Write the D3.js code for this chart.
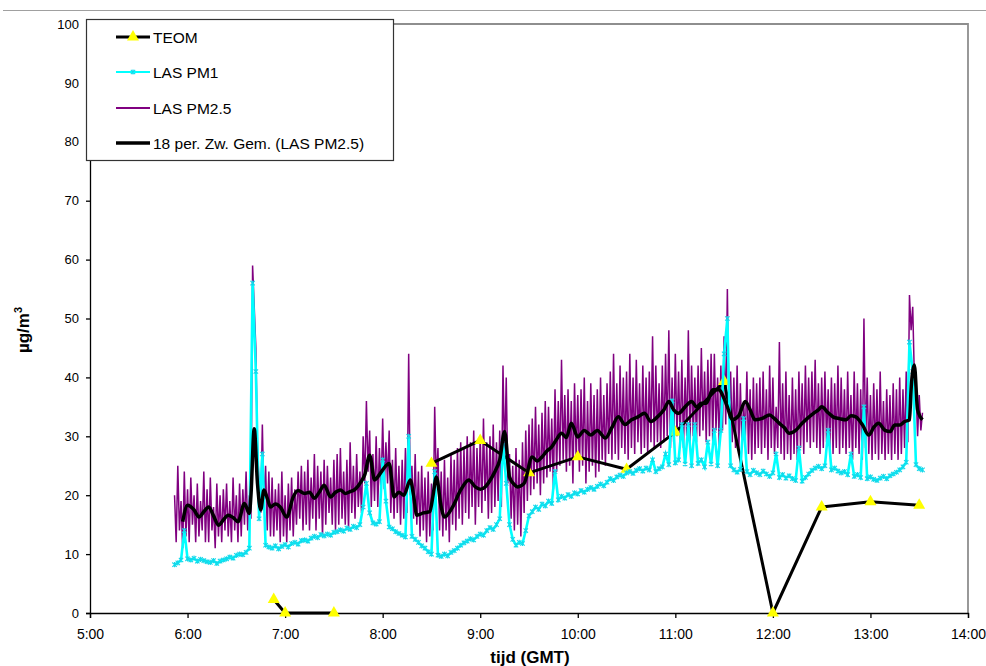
<!DOCTYPE html>
<html><head><meta charset="utf-8">
<script src="https://cdn.jsdelivr.net/npm/d3@7"></script>
<style>body{margin:0;background:#fff;} svg{display:block;font-family:"Liberation Sans",Arial,sans-serif;}</style>
</head><body><svg id="chart" width="986" height="666"></svg>
<script>
// ---------- data ----------
const xTickLabels = ["5:00","6:00","7:00","8:00","9:00","10:00","11:00","12:00","13:00","14:00"];
const yTicks = [0,10,20,30,40,50,60,70,80,90,100];
const legendLabels = ["TEOM","LAS PM1","LAS PM2.5","18 per. Zw. Gem. (LAS PM2.5)"];

// TEOM half-hourly values (null = no measurement)
const teomTimes  = ["6:53","7:00","7:30","8:00","8:30","9:00","9:30","10:00","10:30","11:00","11:30","12:00","12:30","13:00","13:30"];
const teomValues = [2.3, 0, 0, null, 25.4, 29.3, 23.8, 26.5, 24.4, 30.7, 39.3, 0, 18.0, 18.9, 18.3];

// LAS PM1, one sample every 2 minutes from 5:52
const pm1Start = "5:52";
const pm1StepMinutes = 2;
const lasPM1 = [
  8.2, 8.5, 9.0, 14, 9.2, 9.0, 9.3, 8.8, 9.1, 8.9,
  8.7, 8.6, 8.9, 8.4, 8.8, 9.0, 9.2, 9.5, 9.3, 9.8,
  10.0, 9.9, 10.3, 11.0, 56, 41, 16, 27, 11.5, 11.2,
  11.0, 11.4, 10.9, 11.3, 11.6, 11.2, 11.8, 12.0, 11.7, 12.3,
  12.4, 12.2, 12.7, 13.0, 12.8, 13.3, 13.1, 13.4, 13.2, 13.7,
  13.8, 14.1, 13.9, 14.4, 14.2, 14.7, 14.5, 15.0, 18, 22,
  17, 15.3, 15.1, 15.5, 26, 19, 14.6, 14.3, 13.8, 13.5,
  13.2, 12.9, 30, 13.0, 12.5, 12.0, 11.4, 11.0, 10.4, 10.0,
  24, 9.8, 9.6, 10.0, 9.7, 10.3, 10.6, 11.0, 11.5, 11.9,
  12.2, 12.6, 12.4, 13.0, 13.4, 13.2, 14.0, 14.5, 14.2, 15.0,
  16, 29, 22, 15, 12.5, 11.5, 12.0, 11.8, 14, 16.5,
  17.2, 18.0, 17.6, 18.5, 18.2, 19.0, 18.6, 24, 19.2, 19.8,
  19.5, 20.1, 19.8, 20.4, 20.2, 20.8, 20.5, 21.0, 21.3, 21.0,
  21.5, 21.9, 21.6, 22.2, 22.8, 22.5, 23.1, 23.4, 23.2, 23.8,
  24.0, 23.7, 24.2, 24.5, 24.1, 24.6, 24.3, 26, 24.0, 24.5,
  24.8, 27, 25.2, 36, 25.5, 26, 32, 25.3, 32, 25.0,
  32, 25.4, 26, 24.8, 29, 25.3, 31, 25.0, 31, 44,
  50, 25.0, 24.3, 23.9, 24.4, 33, 24.0, 23.5, 24.2, 23.8,
  23.5, 24.1, 23.6, 23.2, 23.8, 27, 23.0, 23.5, 22.9, 23.3,
  22.8, 22.5, 28, 22.4, 23.0, 23.6, 24.2, 24.6, 24.9, 24.5,
  25.0, 31, 24.3, 24.6, 24.1, 23.8, 24.0, 23.5, 27, 23.2,
  23.5, 23.0, 35, 22.8, 23.1, 22.7, 22.5, 22.9, 23.2, 22.8,
  23.3, 23.6, 23.9, 24.3, 24.8, 25.6, 46, 41, 25.2, 24.5,
  24.3
];

// LAS PM2.5, one sample every minute from 5:52
const pm25Start = "5:52";
const pm25StepMinutes = 1;
const lasPM25 = [
  20, 12, 25, 14, 19, 11, 24, 13, 21, 12, 23, 15, 20, 12, 22, 13, 19, 14, 24, 12,
  21, 12, 23, 14, 18, 11, 22, 13, 20, 12, 21, 14, 22, 13, 19, 12, 23, 14, 20, 12,
  22, 13, 21, 15, 24, 14, 20, 16, 59, 52, 45, 28, 22, 17, 32, 18, 25, 14, 24, 13,
  23, 13, 21, 14, 22, 12, 24, 13, 20, 12, 22, 14, 23, 13, 21, 15, 24, 16, 25, 14,
  24, 15, 26, 14, 23, 16, 27, 14, 25, 16, 24, 13, 26, 15, 25, 17, 23, 15, 26, 14,
  27, 15, 28, 16, 24, 15, 26, 14, 29, 17, 25, 16, 27, 18, 24, 17, 30, 22, 36, 24,
  31, 18, 27, 19, 30, 18, 28, 20, 33, 21, 29, 22, 31, 17, 26, 16, 28, 17, 25, 15,
  26, 16, 28, 17, 44, 20, 25, 16, 27, 15, 24, 13, 25, 14, 23, 12, 24, 13, 22, 14,
  35, 22, 28, 14, 24, 13, 26, 14, 23, 12, 27, 15, 26, 14, 28, 16, 29, 15, 28, 17,
  30, 16, 29, 18, 31, 15, 28, 18, 30, 17, 33, 19, 29, 16, 30, 17, 32, 18, 29, 19,
  31, 18, 42, 26, 40, 22, 27, 16, 25, 14, 28, 15, 26, 13, 29, 17, 31, 19, 32, 20,
  33, 21, 35, 22, 32, 20, 34, 22, 36, 23, 35, 24, 33, 21, 38, 24, 36, 25, 43, 26,
  37, 24, 38, 25, 36, 22, 39, 26, 37, 24, 38, 25, 40, 22, 36, 24, 39, 25, 37, 23,
  38, 24, 40, 26, 37, 25, 39, 27, 41, 26, 44, 27, 39, 26, 42, 28, 40, 27, 41, 26,
  44, 28, 40, 27, 43, 29, 39, 27, 42, 28, 40, 27, 41, 29, 47, 28, 42, 29, 39, 28,
  42, 29, 44, 30, 48, 28, 40, 29, 44, 30, 41, 29, 43, 28, 40, 30, 48, 29, 42, 30,
  40, 29, 42, 30, 45, 31, 41, 29, 43, 30, 44, 29, 44, 31, 40, 28, 42, 31, 47, 32,
  55, 33, 41, 29, 40, 28, 42, 27, 39, 28, 36, 29, 41, 27, 38, 26, 40, 27, 39, 28,
  40, 27, 41, 28, 38, 26, 42, 28, 40, 27, 35, 28, 46, 27, 39, 26, 41, 27, 37, 26,
  40, 27, 38, 26, 41, 28, 39, 27, 42, 29, 40, 28, 41, 29, 43, 28, 39, 27, 40, 28,
  41, 29, 38, 28, 40, 27, 39, 28, 42, 27, 40, 28, 38, 27, 41, 28, 37, 26, 41, 28,
  39, 27, 38, 26, 50, 28, 40, 27, 37, 26, 39, 27, 38, 26, 41, 27, 36, 26, 38, 27,
  37, 26, 39, 27, 38, 26, 40, 27, 38, 28, 41, 29, 54, 48, 52, 40, 38, 30, 37, 31,
  34
];

// 18-period moving average of LAS PM2.5
const maTimes = ["5:57","6:00","6:04","6:07","6:10","6:13","6:16","6:19","6:22","6:25","6:28","6:31","6:35","6:38","6:39","6:41","6:43","6:45","6:47","6:49","6:51","6:54","6:57",
  "7:01","7:05","7:08","7:12","7:15","7:18","7:21","7:24","7:28","7:31","7:34","7:37","7:40","7:43","7:46","7:49","7:52","7:55","7:58",
  "8:00","8:04","8:07","8:10","8:13","8:17","8:19","8:21","8:25","8:29","8:31","8:33","8:36","8:38","8:43","8:48","8:53","8:57",
  "9:00","9:03","9:06","9:09","9:12","9:15","9:18","9:21","9:23","9:27","9:32","9:35","9:38","9:41","9:44","9:47","9:50","9:53","9:56",
  "10:00","10:04","10:08","10:12","10:17","10:21","10:25","10:29","10:33","10:37","10:41","10:45","10:49","10:53","10:56","10:59",
  "11:02","11:06","11:10","11:13","11:16","11:19","11:23","11:27","11:29","11:32","11:35","11:39","11:43","11:46","11:49","11:53","11:58",
  "12:01","12:04","12:07","12:10","12:14","12:18","12:21","12:25","12:28","12:30","12:34","12:37","12:41","12:45","12:48","12:51","12:55","12:59",
  "13:02","13:05","13:09","13:12","13:15","13:18","13:21","13:24","13:25","13:27","13:29","13:32"];
const maValues = [15.5,18.3,17.5,16.3,17.2,18.0,16.5,14.9,15.8,16.6,16.2,15.5,18.6,16.9,20,31.3,22.0,17.5,20.9,19.5,18.0,18.5,18.0,
  16.3,19.7,20.8,20.3,20.5,19.5,20.5,21.7,19.7,20.5,20.9,20.3,20.6,21.0,22.0,23.5,26.8,22.6,23.5,
  24.3,25.4,19.7,20.5,20.0,22.6,20,16.6,17.0,17.2,20,23.1,18,16.3,18.0,20.9,22.6,21.4,
  21.0,21.4,22.5,24.0,26,30.8,23.1,21.8,21.4,22.0,26.5,25.8,26.5,27.5,28.2,29.5,30.5,29.8,32.2,
  29.9,31.0,30.2,31.0,29.7,31.5,33.3,32.0,32.8,33.3,33.9,32.5,33.3,34.5,35.9,34.5,
  33.9,35.0,35.9,35.0,35.6,35.6,37.9,37.9,37.0,35.0,32.8,33.5,35.9,34.5,32.8,33.0,33.6,
  33.0,32.2,31.5,30.5,31.0,32.2,33.0,33.9,34.5,35.0,34.0,33.3,33.0,32.8,33.5,33.3,32.0,30.2,
  31.5,32.2,31.0,30.8,31.9,31.9,32.5,32.8,38,42.1,34.5,32.8];

// ---------- chart ----------
function toHours(s){ const p = s.split(":").map(Number); return p[0] + p[1]/60; }

const svg = d3.select("#chart");
const x = d3.scaleLinear().domain([5,14]).range([90,968]);
const y = d3.scaleLinear().domain([0,100]).range([613,24]);

// outer frame line
svg.append("line").attr("x1",3).attr("x2",986).attr("y1",10.5).attr("y2",10.5)
  .attr("stroke","#a0a0a0").attr("stroke-width",1.2);
// plot area border (top/right grey)
svg.append("path").attr("d",`M${x(5)},${y(100)}H${x(14)}V${y(0)}`)
  .attr("fill","none").attr("stroke","#8e8e8e").attr("stroke-width",1.8);

// axes
const xAxis = d3.axisBottom(x)
  .tickValues(xTickLabels.map(toHours))
  .tickFormat((d,i) => xTickLabels[i])
  .tickSize(5).tickPadding(11);
const gx = svg.append("g").attr("transform",`translate(0,${y(0)})`).call(xAxis);
gx.selectAll("text").attr("font-size",14).attr("fill","#000").attr("font-family","Liberation Sans, Arial, sans-serif");
gx.selectAll("line,path").attr("stroke","#000").attr("stroke-width",1.3);

const yAxis = d3.axisLeft(y).tickValues(yTicks).tickSize(4).tickPadding(7);
const gy = svg.append("g").attr("transform",`translate(${x(5)},0)`).call(yAxis);
gy.selectAll("text").attr("font-size",13).attr("fill","#000").attr("font-family","Liberation Sans, Arial, sans-serif");
gy.selectAll("line,path").attr("stroke","#000").attr("stroke-width",1.3);

// axis titles
svg.append("text").attr("x",530).attr("y",663).attr("text-anchor","middle")
  .attr("font-weight","bold").attr("font-size",17).text("tijd (GMT)");
const yt = svg.append("text").attr("transform","translate(29,330) rotate(-90)")
  .attr("text-anchor","middle").attr("font-weight","bold").attr("font-size",17);
yt.append("tspan").text("µg/m");
yt.append("tspan").attr("font-size",11).attr("dy",-7).text("3");

// series
const pm25T0 = toHours(pm25Start), pm1T0 = toHours(pm1Start);
const pm25Data = lasPM25.map((v,i)=>({t:pm25T0 + i*pm25StepMinutes/60, v}));
const pm1Data = lasPM1.map((v,i)=>({t:pm1T0 + i*pm1StepMinutes/60, v}));
const maData = maTimes.map((t,i)=>({t:toHours(t), v:maValues[i]}));
const teomData = teomTimes.map((t,i)=>({t:toHours(t), v:teomValues[i]}));

const line = d3.line().defined(d=>d.v!=null).x(d=>x(d.t)).y(d=>y(d.v));

// PM2.5
svg.append("path").datum(pm25Data).attr("d",line)
  .attr("fill","none").attr("stroke","#800080").attr("stroke-width",1.5).attr("stroke-linejoin","miter");

// TEOM
svg.append("path").datum(teomData).attr("d",line)
  .attr("fill","none").attr("stroke","#000").attr("stroke-width",3).attr("stroke-linejoin","round");
const tri = d3.symbol().type(d3.symbolTriangle).size(62);
svg.append("g").selectAll("path").data(teomData.filter(d=>d.v!=null)).join("path")
  .attr("transform",d=>`translate(${x(d.t)},${y(d.v)})`)
  .attr("d",tri).attr("fill","#ffff00");

// PM1
svg.append("path").datum(pm1Data).attr("d",line)
  .attr("fill","none").attr("stroke","#00ffff").attr("stroke-width",2.6);
const star = "M-2.2,-2.2L2.2,2.2M-2.2,2.2L2.2,-2.2M0,-2.6V2.6";
svg.append("g").selectAll("path").data(pm1Data).join("path")
  .attr("transform",d=>`translate(${x(d.t)},${y(d.v)})`)
  .attr("d",star).attr("fill","none").attr("stroke","#14d8ea").attr("stroke-width",1.1);

// moving average
svg.append("path").datum(maData).attr("d",d3.line().x(d=>x(d.t)).y(d=>y(d.v)).curve(d3.curveMonotoneX))
  .attr("fill","none").attr("stroke","#000").attr("stroke-width",3.5).attr("stroke-linejoin","round");

// legend
const lg = svg.append("g");
lg.append("rect").attr("x",86.5).attr("y",19.5).attr("width",307).attr("height",141)
  .attr("fill","#fff").attr("stroke","#333").attr("stroke-width",1.2);
const ly = [37,72,108,143];
const lx1 = 116, lx2 = 150;
lg.append("line").attr("x1",lx1).attr("x2",lx2).attr("y1",ly[0]).attr("y2",ly[0]).attr("stroke","#000").attr("stroke-width",3);
lg.append("path").attr("transform",`translate(${(lx1+lx2)/2},${ly[0]})`).attr("d",tri).attr("fill","#ffff00");
lg.append("line").attr("x1",lx1).attr("x2",lx2).attr("y1",ly[1]).attr("y2",ly[1]).attr("stroke","#00ffff").attr("stroke-width",2);
lg.append("path").attr("transform",`translate(${(lx1+lx2)/2},${ly[1]})`).attr("d",star).attr("fill","none").attr("stroke","#14d8ea").attr("stroke-width",1.1);
lg.append("line").attr("x1",lx1).attr("x2",lx2).attr("y1",ly[2]).attr("y2",ly[2]).attr("stroke","#800080").attr("stroke-width",2);
lg.append("line").attr("x1",lx1).attr("x2",lx2).attr("y1",ly[3]).attr("y2",ly[3]).attr("stroke","#000").attr("stroke-width",3.5);
lg.selectAll("text.lbl").data(legendLabels).join("text").attr("class","lbl")
  .attr("x",153).attr("y",(d,i)=>ly[i]+5.5).attr("font-size",15.5).attr("fill","#000").text(d=>d);
</script>
</body></html>
